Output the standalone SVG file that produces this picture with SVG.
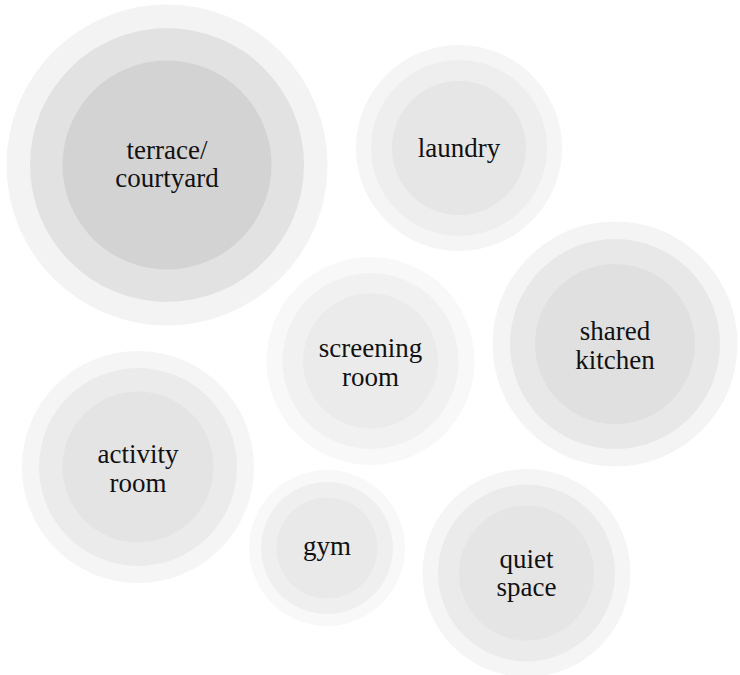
<svg xmlns="http://www.w3.org/2000/svg" width="740" height="675" viewBox="0 0 740 675">
  <style>
    text { font-family: "Liberation Serif", "DejaVu Serif", serif; font-size: 27px; fill: #111111; text-anchor: middle; }
  </style>
  <rect width="740" height="675" fill="#ffffff"/>

  <g id="terrace-courtyard">
    <circle cx="167" cy="165" r="160.5" fill="#f3f3f3"/>
    <circle cx="167" cy="165" r="137" fill="#e2e2e2"/>
    <circle cx="167" cy="165" r="104.5" fill="#d3d3d3"/>
    <text x="167" y="158.5">terrace/</text>
    <text x="167" y="186.5">courtyard</text>
  </g>

  <g id="laundry">
    <circle cx="459" cy="148" r="103" fill="#f5f5f5"/>
    <circle cx="459" cy="148" r="88" fill="#eeeeee"/>
    <circle cx="459" cy="148" r="67" fill="#e6e6e6"/>
    <text x="459" y="157">laundry</text>
  </g>

  <g id="shared-kitchen">
    <circle cx="615" cy="344" r="122.5" fill="#f4f4f4"/>
    <circle cx="615" cy="344" r="105" fill="#e8e8e8"/>
    <circle cx="615" cy="344" r="80" fill="#e0e0e0"/>
    <text x="615" y="340">shared</text>
    <text x="615" y="369">kitchen</text>
  </g>

  <g id="screening-room">
    <circle cx="370.5" cy="361" r="104" fill="#f8f8f8"/>
    <circle cx="370.5" cy="361" r="88" fill="#f1f1f1"/>
    <circle cx="370.5" cy="361" r="67.5" fill="#ebebeb"/>
    <text x="370.5" y="357">screening</text>
    <text x="370.5" y="386">room</text>
  </g>

  <g id="activity-room">
    <circle cx="138" cy="467" r="116" fill="#f5f5f5"/>
    <circle cx="138" cy="467" r="99" fill="#ebebeb"/>
    <circle cx="138" cy="467" r="75.5" fill="#e4e4e4"/>
    <text x="138" y="463">activity</text>
    <text x="138" y="492">room</text>
  </g>

  <g id="gym">
    <circle cx="327" cy="548" r="78" fill="#f8f8f8"/>
    <circle cx="327" cy="548" r="66" fill="#efefef"/>
    <circle cx="327" cy="548" r="50.5" fill="#e9e9e9"/>
    <text x="327" y="555">gym</text>
  </g>

  <g id="quiet-space">
    <circle cx="526.5" cy="573" r="104" fill="#f5f5f5"/>
    <circle cx="526.5" cy="573" r="88.5" fill="#ebebeb"/>
    <circle cx="526.5" cy="573" r="67.5" fill="#e5e5e5"/>
    <text x="526.5" y="568">quiet</text>
    <text x="526.5" y="596">space</text>
  </g>

  <g id="connectors"/>
</svg>
